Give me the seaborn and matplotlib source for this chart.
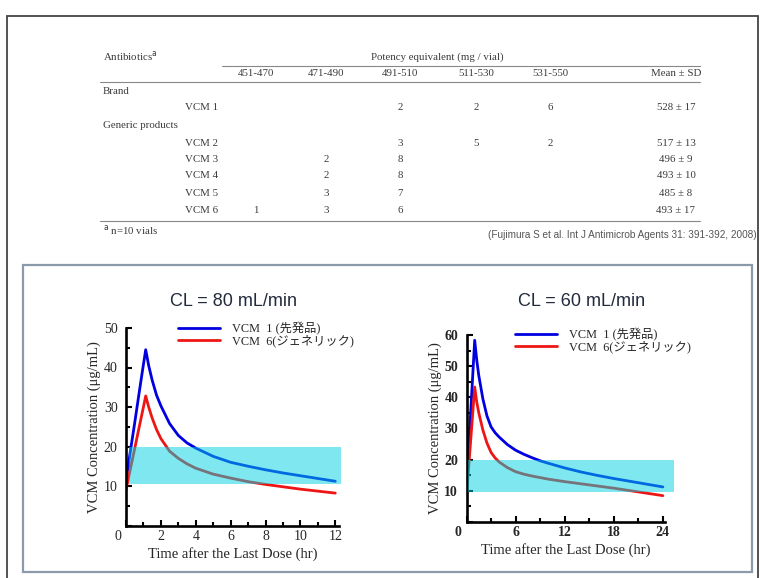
import pandas as pd
import seaborn as sns
import matplotlib.pyplot as plt
from matplotlib.lines import Line2D
from matplotlib.patches import Rectangle
from matplotlib.ticker import MultipleLocator

# ---------------- table values ----------------
col_headers = ["451-470", "471-490", "491-510", "511-530", "531-550", "Mean \u00b1 SD"]
row_names = ["VCM 1", "VCM 2", "VCM 3", "VCM 4", "VCM 5", "VCM 6"]
counts = [
    ["", "", "2", "2", "6"],
    ["", "", "3", "5", "2"],
    ["", "2", "8", "", ""],
    ["", "2", "8", "", ""],
    ["", "3", "7", "", ""],
    ["1", "3", "6", "", ""],
]
mean_sd = ["528 \u00b1 17", "517 \u00b1 13", "496 \u00b1 9", "493 \u00b1 10", "485 \u00b1 8", "493 \u00b1 17"]

# ---------------- simulated concentration curves ----------------
t_80 = [0, 0.25, 0.5, 0.75, 1.0, 1.13, 1.3, 1.5, 1.75, 2.0, 2.5, 3.0, 3.5, 4.0, 5, 6, 7, 8, 9, 10, 11, 12]
vcm1_80 = [11.5, 18.8, 26.0, 33.5, 40.8, 44.5, 40.5, 36.8, 33.0, 30.3, 25.8, 22.8, 20.9, 19.6, 17.5, 16.0,
           15.0, 14.1, 13.3, 12.6, 11.9, 11.2]
vcm6_80 = [9.0, 14.3, 19.5, 24.8, 30.0, 32.8, 30.0, 27.2, 24.3, 22.0, 18.8, 17.0, 15.6, 14.5, 13.0, 12.0,
           11.1, 10.4, 9.8, 9.2, 8.7, 8.2]

t_60 = [0, 0.25, 0.5, 0.75, 1.0, 1.25, 1.5, 2.0, 2.5, 3, 3.5, 4, 5, 6, 7, 8, 9, 10, 12, 14, 16, 18, 20, 22, 24]
vcm1_60 = [11.0, 22.8, 34.6, 46.5, 58.3, 52.0, 47.0, 39.5, 34.0, 30.5, 28.6, 27.2, 24.8, 23.0, 21.7, 20.6,
           19.6, 18.8, 17.3, 16.0, 14.9, 13.9, 13.0, 12.1, 11.2]
vcm6_60 = [8.4, 17.1, 25.8, 34.5, 43.3, 38.5, 35.0, 29.5, 25.3, 22.3, 20.5, 19.2, 17.4, 16.1, 15.3, 14.7,
           14.2, 13.7, 12.9, 12.2, 11.5, 10.8, 10.0, 9.2, 8.4]

# therapeutic window (low, high) and its time span
band_80 = [10.5, 20.0]
band_span_80 = [0.15, 12.3]
band_60 = [9.5, 19.8]
band_span_60 = [0.2, 25.4]

label_1 = "VCM  1 (\u5148\u767a\u54c1)"
label_6 = "VCM  6(\u30b8\u30a7\u30cd\u30ea\u30c3\u30af)"

sns.set_style("white")
plt.rcParams["font.family"] = ["Liberation Serif", "Noto Sans CJK JP"]

W, H = 760, 578
fig = plt.figure(figsize=(W / 100, H / 100), dpi=100)


def fx(x):
    return x / W


def fy(y):
    return 1 - y / H


# outer frame and chart panel
fig.add_artist(Rectangle((fx(7), -0.05), fx(758) - fx(7), fy(16) + 0.05, transform=fig.transFigure,
                         fill=False, ec="#444444", lw=1.3))
fig.add_artist(Rectangle((fx(23), fy(572)), fx(752) - fx(23), fy(265) - fy(572), transform=fig.transFigure,
                         fill=False, ec="#8a9aab", lw=1.6))

# ---------------- table ----------------
tcol = "#3a3a3a"
tfs = 7.8
col_x = [256, 326, 400, 476, 550, 676]
fig.text(fx(103), fy(56), "Antibiotics$^{\\mathrm{a}}$", fontsize=tfs, color=tcol, va="center")
fig.text(fx(437), fy(57), "Potency equivalent (mg / vial)", fontsize=tfs, color=tcol, va="center", ha="center")
fig.add_artist(Line2D([fx(222), fx(700)], [fy(66), fy(66)], color="#888888", lw=0.8))
for x, h in zip(col_x, col_headers):
    fig.text(fx(x), fy(74), h, fontsize=tfs, color=tcol, va="center", ha="center")
fig.add_artist(Line2D([fx(100), fx(700)], [fy(82), fy(82)], color="#888888", lw=0.8))
fig.text(fx(103), fy(91), "Brand", fontsize=tfs, color=tcol, va="center")
fig.text(fx(103), fy(126), "Generic products", fontsize=tfs, color=tcol, va="center")
row_y = [108, 143, 159, 176, 194, 211]
for y, name, cnt, ms in zip(row_y, row_names, counts, mean_sd):
    fig.text(fx(185), fy(y), name, fontsize=tfs, color=tcol, va="center")
    for x, c in zip(col_x, cnt):
        fig.text(fx(x), fy(y), c, fontsize=tfs, color=tcol, va="center", ha="center")
    fig.text(fx(col_x[-1]), fy(y), ms, fontsize=tfs, color=tcol, va="center", ha="center")
fig.add_artist(Line2D([fx(100), fx(700)], [fy(221), fy(221)], color="#888888", lw=0.8))
fig.text(fx(103), fy(230), "$^{\\mathrm{a}}$ n=10 vials", fontsize=tfs, color=tcol, va="center")
fig.text(fx(757), fy(235), "(Fujimura S et al. Int J Antimicrob Agents 31: 391-392, 2008)",
         fontsize=7.2, color="#555555", va="center", ha="right", family="Liberation Sans")

# ---------------- charts ----------------
blue = "#0000e0"
red = "#ee1515"
band_col = (0.0, 0.82, 0.88)


def draw_panel(rect, t, c1, c6, band, span, xmax, ymax, xstep, title, title_x, bold, leg_anchor):
    ax = fig.add_axes(rect)
    ax.set_facecolor("none")
    df = pd.DataFrame({"t": t + t, "conc": c1 + c6,
                       "drug": [label_1] * len(t) + [label_6] * len(t)})
    sns.lineplot(data=df, x="t", y="conc", hue="drug", palette=[blue, red], linewidth=2.0,
                 ax=ax, zorder=2)
    ax.fill_between(span, [band[0]] * 2, [band[1]] * 2, color=band_col, alpha=0.5, lw=0,
                    zorder=3, clip_on=False)
    for s in ["top", "right"]:
        ax.spines[s].set_visible(False)
    for s in ["left", "bottom"]:
        ax.spines[s].set_linewidth(1.9)
        ax.spines[s].set_color("black")
    ax.xaxis.set_major_locator(MultipleLocator(xstep))
    ax.xaxis.set_minor_locator(MultipleLocator(xstep / 2))
    ax.yaxis.set_major_locator(MultipleLocator(10))
    ax.yaxis.set_minor_locator(MultipleLocator(5))
    ax.set_xlim(0, xmax)
    ax.set_ylim(0, ymax)
    wt = "bold" if bold else "normal"
    xt = [v for v in ax.get_xticks() if 0 <= v <= xmax]
    ax.set_xticks(xt)
    ax.set_xticklabels(["" if v == 0 else f"{v:g}" for v in xt], fontsize=10, fontweight=wt)
    yt = [v for v in ax.get_yticks() if 0 <= v <= ymax]
    ax.set_yticks(yt)
    ax.set_yticklabels(["" if v == 0 else f"{v:g}" for v in yt], fontsize=10, fontweight=wt)
    ax.set_xlim(0, xmax)
    ax.set_ylim(0, ymax)
    ax.tick_params(which="both", direction="in", color="black", width=1.5,
                   bottom=True, left=True, top=False, right=False)
    ax.tick_params(which="major", length=4.5)
    ax.tick_params(which="minor", length=3)
    ax.tick_params(axis="y", pad=6)
    ax.tick_params(axis="x", pad=3)
    ax.annotate("0", xy=(0, 0), xytext=(-6, -3), textcoords="offset points", ha="center", va="top",
                fontsize=10, fontweight=wt)
    ax.set_xlabel("Time after the Last Dose (hr)", fontsize=10.5, labelpad=3)
    ax.set_ylabel("VCM Concentration (\u03bcg/mL)", fontsize=10.5, labelpad=2)
    fig.text(fx(title_x), fy(302), title, fontsize=13, color="#222a3c", ha="center", va="center",
             family="Liberation Sans")
    ax.legend(loc="upper left", bbox_to_anchor=leg_anchor, bbox_transform=fig.transFigure,
              frameon=False, fontsize=8.8, handlelength=3.4, handletextpad=1.0, labelspacing=-0.05,
              borderpad=0, borderaxespad=0, title=None)
    return ax


draw_panel([fx(126), fy(525.5), fx(338.8) - fx(126), fy(328) - fy(525.5)],
           t_80, vcm1_80, vcm6_80, band_80, band_span_80, 12.2, 50, 2,
           "CL = 80 mL/min", 234, False, (fx(178), fy(322)))
draw_panel([fx(466.5), fy(521.8), fx(664.5) - fx(466.5), fy(335) - fy(521.8)],
           t_60, vcm1_60, vcm6_60, band_60, band_span_60, 24.2, 60, 6,
           "CL = 60 mL/min", 582, True, (fx(515), fy(328)))

fig.savefig("out.png", dpi=100)
